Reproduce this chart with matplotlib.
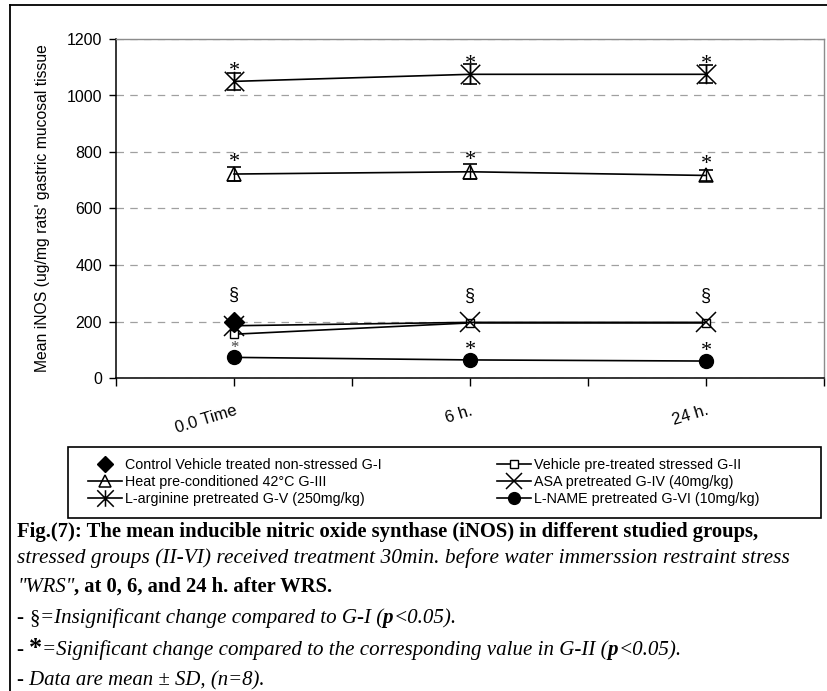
import matplotlib
matplotlib.use('Agg')
import matplotlib.pyplot as plt
from matplotlib.path import Path
from matplotlib.lines import Line2D
from matplotlib.patches import Rectangle
from matplotlib import font_manager

# ---------------- data ----------------
time_labels = ["0.0 Time", "6 h.", "24 h."]
x_pos = [0, 1, 2]

g1_x = [0]
g1_mean = [200]
g2_mean = [155, 195, 195]
g3_mean = [722, 730, 717]
g3_sd = [25, 27, 19]
g4_mean = [185, 197, 197]
g5_mean = [1050, 1075, 1075]
g5_sd = [30, 35, 32]
g6_mean = [73, 64, 60]

series_labels = [
    "Control Vehicle treated non-stressed G-I",
    "Vehicle pre-treated stressed G-II",
    "Heat pre-conditioned 42\u00b0C G-III",
    "ASA pretreated G-IV (40mg/kg)",
    "L-arginine pretreated G-V (250mg/kg)",
    "L-NAME pretreated G-VI (10mg/kg)",
]
y_ticks = [0, 200, 400, 600, 800, 1000, 1200]
y_label = "Mean iNOS (ug/mg rats' gastric mucosal tissue"

# ---------------- fonts ----------------
names = {f.name for f in font_manager.fontManager.ttflist}
NARROW = 'Liberation Sans Narrow' if 'Liberation Sans Narrow' in names else 'Liberation Sans'
SANS = [NARROW, 'DejaVu Sans']
SERIF = ['Liberation Serif', 'DejaVu Serif']

W, H, DPI = 827, 691, 100
fig = plt.figure(figsize=(W / DPI, H / DPI), dpi=DPI)
fig.patch.set_facecolor('white')

def fx(px):
    return px / W

def fy(py):
    return 1 - py / H

# outer frame
fig.add_artist(Line2D([fx(10), fx(W + 5)], [fy(5), fy(5)], color='black', lw=1.3))
fig.add_artist(Line2D([fx(10), fx(10)], [fy(5), fy(H + 5)], color='black', lw=1.3))

# ---------------- axes ----------------
ax = fig.add_axes([fx(116), fy(378), fx(824) - fx(116), fy(39) - fy(378)])
ax.set_xlim(-0.5, 2.5)
ax.set_ylim(0, 1200)
ax.set_yticks(y_ticks)
ax.set_yticklabels([str(v) for v in y_ticks], fontfamily=SANS, fontsize=11.5)
ax.set_xticks(x_pos)
ax.set_xticks([-0.5, 0.5, 1.5, 2.5], minor=True)
ax.set_xticklabels(time_labels, fontfamily=SANS, fontsize=12, rotation=17,
                   ha='right', va='top', rotation_mode='anchor')
ax.tick_params(axis='x', which='both', direction='out', length=6, width=1, color='black', pad=12)
ax.tick_params(axis='y', direction='out', length=5, width=1, color='black', pad=5)
for s in ['left', 'bottom']:
    ax.spines[s].set_color('black')
    ax.spines[s].set_linewidth(1.1)
for s in ['top', 'right']:
    ax.spines[s].set_color('#8c8c8c')
    ax.spines[s].set_linewidth(1.0)
ax.yaxis.grid(True, linestyle=(0, (6, 5)), color='#a0a0a0', linewidth=0.9)
ax.set_axisbelow(True)
ax.set_ylabel(y_label, fontfamily=SANS, fontsize=11.3, labelpad=12)

star_path = Path([(0, -1), (0, 1), (-1, -1), (1, 1), (-1, 1), (1, -1)],
                 [Path.MOVETO, Path.LINETO] * 3)

lw = 1.2
h6, = ax.plot(x_pos, g6_mean, color='black', lw=lw, marker='o', ms=10, mfc='black', mec='black', zorder=3)
h2, = ax.plot(x_pos, g2_mean, color='black', lw=lw, marker='s', ms=6, mfc='white', mec='black', mew=1, zorder=3)
h4, = ax.plot(x_pos, g4_mean, color='black', lw=lw, marker='x', ms=14, mew=1.1, mec='black', zorder=4)
h3, = ax.plot(x_pos, g3_mean, color='black', lw=lw, marker='^', ms=10, mfc='none', mec='black', mew=1.1, zorder=3)
ax.errorbar(x_pos, g3_mean, yerr=g3_sd, fmt='none', ecolor='black', elinewidth=1, capsize=5, capthick=1.2, zorder=3)
h5, = ax.plot(x_pos, g5_mean, color='black', lw=lw, marker=star_path, ms=14, mew=1.1, mec='black', zorder=3)
ax.errorbar(x_pos, g5_mean, yerr=g5_sd, fmt='none', ecolor='black', elinewidth=1, capsize=5, capthick=1.2, zorder=3)
h1, = ax.plot(g1_x, g1_mean, linestyle='none', marker='D', ms=10, mfc='black', mec='black', zorder=5)

# significance marks (offsets in points above the mean)
def mark(xs, ys, sym, dy, size, family, color='black'):
    for xv, yv in zip(xs, ys):
        ax.annotate(sym, xy=(xv, yv), xytext=(0, dy), textcoords='offset points',
                    ha='center', va='center', fontsize=size, fontfamily=family, color=color)

mark(x_pos, g5_mean, '*', 7, 16, SERIF)
mark(x_pos, g3_mean, '*', 8, 16, SERIF)
mark(x_pos[1:], g6_mean[1:], '*', 7, 16, SERIF)
mark(x_pos[:1], g6_mean[:1], '*', 7, 12, SERIF, color='#444444')
mark(x_pos[:1], g1_mean, '\u00a7', 19, 13, SANS)
mark(x_pos[1:], g2_mean[1:], '\u00a7', 19, 13, SANS)

# ---------------- legend ----------------
fig.add_artist(Rectangle((fx(68), fy(518)), fx(821) - fx(68), fy(447) - fy(518),
                         transform=fig.transFigure, fill=False, edgecolor='black', lw=1.2))
leg_handles = [h1, h3, h5, h2, h4, h6]
leg_labels = [series_labels[0], series_labels[2], series_labels[4],
              series_labels[1], series_labels[3], series_labels[5]]
leg = fig.legend(leg_handles, leg_labels, ncol=2, loc='upper left',
                 bbox_to_anchor=(fx(79), fy(449)), frameon=False,
                 prop={'family': SANS, 'size': 10.3}, handlelength=2.4,
                 handletextpad=0.25, labelspacing=0.22, columnspacing=8.0,
                 borderpad=0.1, markerscale=0.85)

# ---------------- caption ----------------
fig.canvas.draw()
renderer = fig.canvas.get_renderer()

def caption(pieces, y_px, x0_px, size, x1_px=None):
    # pieces: list of (text, weight, style, size_factor); if x1_px given, size is fitted to width
    def build(sz):
        arts = []
        x = x0_px
        for txt, wgt, sty, fac in pieces:
            t = fig.text(fx(x), fy(y_px), txt, fontfamily=SERIF, fontweight=wgt,
                         fontstyle=sty, fontsize=sz * fac, va='baseline', ha='left')
            bb = t.get_window_extent(renderer)
            x += bb.width
            arts.append(t)
        return arts, x - x0_px
    if x1_px is not None:
        arts, w = build(size)
        for a in arts:
            a.remove()
        size = size * (x1_px - x0_px) / w
    build(size)
    return size

s1 = caption([("Fig.(7): The mean inducible nitric oxide synthase (iNOS) in different studied groups,", 'bold', 'normal', 1.0)],
             537, 17, 13, 757)
s2 = caption([("stressed groups (II-VI) received treatment 30min. before water immerssion restraint stress", 'normal', 'italic', 1.0)],
             563, 17, 13, 786)
caption([('"WRS"', 'normal', 'italic', 1.0), (", at 0, 6, and 24 h. after WRS.", 'bold', 'normal', 1.0)],
        592, 17, s1)
caption([("- ", 'bold', 'normal', 1.0), ("\u00a7", 'normal', 'normal', 1.0),
         ("=Insignificant change compared to G-I (", 'normal', 'italic', 1.0),
         ("p", 'bold', 'italic', 1.0), ("<0.05).", 'normal', 'italic', 1.0)],
        623, 17, 11.5, 457)
caption([("- ", 'bold', 'normal', 1.0), ("*", 'bold', 'normal', 1.25),
         ("=Significant change compared to the corresponding value in G-II (", 'normal', 'italic', 1.0),
         ("p", 'bold', 'italic', 1.0), ("<0.05).", 'normal', 'italic', 1.0)],
        655, 17, 11.5, 685)
caption([("- Data are mean \u00b1 SD, (n=8).", 'normal', 'italic', 1.0)],
        685, 17, 11.5, 265)

fig.savefig('out.png', dpi=DPI, facecolor='white')
